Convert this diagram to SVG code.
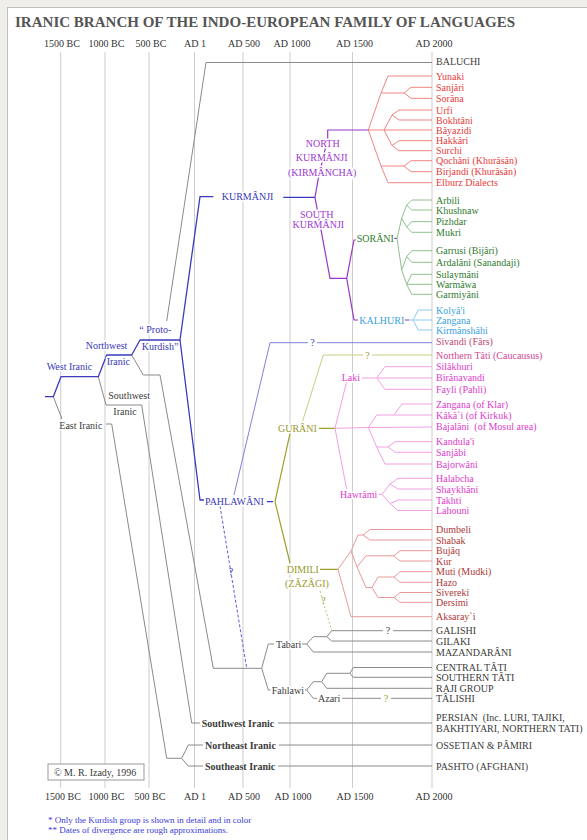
<svg xmlns="http://www.w3.org/2000/svg" width="587" height="840" viewBox="0 0 587 840">
<style>
text{font-family:"Liberation Serif","Times New Roman",serif;font-size:10px}
.h{paint-order:stroke;stroke:#fff;stroke-width:3px;stroke-linejoin:round}
.pre{white-space:pre}
.b{font-weight:bold}
.k{fill:#3c3c3c}.nk{fill:#e63c3c}.gr{fill:#2f7b2f}.lb{fill:#3aa2e0}.mg{fill:#dd3ccc}.dm{fill:#ad3838}
.bl{fill:#3838b8}.pu{fill:#a038d0}.ol{fill:#9a9a2a}.sv{fill:#c04870}.nt{fill:#cf4892}.ax{fill:#333}
.c{fill:none;stroke-width:1;stroke-linejoin:round}
.sg{stroke:#8a8a8a}.sb{stroke:#3b3bbd;stroke-width:1.3}.sp{stroke:#9a35c8;stroke-width:1.2}.so{stroke:#9fa02a;stroke-width:1.2}
.sr{stroke:#f08585}.sgn{stroke:#8fc08f}.slb{stroke:#8ccaf0}.spk{stroke:#f0a0e4}.sdm{stroke:#e89a9a}
.grid{stroke:#cdcdcd;stroke-width:1}
</style>
<rect width="587" height="840" fill="#fff"/>
<rect x="0" y="0" width="7" height="840" fill="#efeee9"/>
<rect x="0" y="0" width="587" height="7" fill="#efeee9"/>
<line x1="7.5" y1="7" x2="7.5" y2="840" stroke="#c0c0c0"/>
<line x1="7" y1="7.5" x2="587" y2="7.5" stroke="#c0c0c0"/>

<g id="title"><text x="15" y="27" font-weight="bold" fill="#555" style="font-size:15px" textLength="500" lengthAdjust="spacingAndGlyphs">IRANIC BRANCH OF THE INDO-EUROPEAN FAMILY OF LANGUAGES</text></g>

<g id="grid">
<line class="grid" x1="60.7" y1="52" x2="60.7" y2="788"/>
<line class="grid" x1="105" y1="52" x2="105" y2="788"/>
<line class="grid" x1="149" y1="52" x2="149" y2="788"/>
<line class="grid" x1="194.5" y1="52" x2="194.5" y2="788"/>
<line class="grid" x1="243" y1="52" x2="243" y2="788"/>
<line class="grid" x1="290" y1="52" x2="290" y2="788"/>
<line class="grid" x1="352.5" y1="52" x2="352.5" y2="788"/>
<line class="grid" x1="432" y1="52" x2="432" y2="788"/>
</g>

<g id="axis-top" text-anchor="middle">
<text x="62" y="47" class="ax">1500 BC</text><text x="106.5" y="47" class="ax">1000 BC</text><text x="151" y="47" class="ax">500 BC</text><text x="195" y="47" class="ax">AD 1</text><text x="244" y="47" class="ax">AD 500</text><text x="292" y="47" class="ax">AD 1000</text><text x="354.5" y="47" class="ax">AD 1500</text><text x="434" y="47" class="ax">AD 2000</text>
</g>
<g id="axis-bottom" text-anchor="middle">
<text x="63" y="800" class="ax">1500 BC</text><text x="106.5" y="800" class="ax">1000 BC</text><text x="150" y="800" class="ax">500 BC</text><text x="195" y="800" class="ax">AD 1</text><text x="244" y="800" class="ax">AD 500</text><text x="293" y="800" class="ax">AD 1000</text><text x="355" y="800" class="ax">AD 1500</text><text x="434" y="800" class="ax">AD 2000</text>
</g>

<g id="connectors">
<path class="c sg" d="M53.3,396.7 L62,419 M106,424 L111.7,424 L166.7,758.3 L181.7,758.3 M188.3,745 L181.7,758.3 L188.3,766 M188.3,745 L203,745 M188.3,766 L203,766 M279,745 L432,745 M278,766 L432,766"/>
<path class="c sg" d="M98.3,376.7 L106,405 L141.7,405 L191.7,723 L200,723 M278,723 L432,723"/>
<path class="c sg" d="M131.7,355 L143.3,375 L160,375 L213.3,668.3 L261.7,668.3 M268.3,644 L261.7,668.3 L268.3,690 M268.3,644 L274,644 M268.3,690 L270.5,690"/>
<path class="c sg" d="M302,644 L306.7,644 M313.3,636.7 L306.7,644 L313.3,652 M313.3,636.7 L326.7,636.7 M331.7,630.7 L326.7,636.7 L331.7,641 M331.7,630.7 L383,630.7 M393,630.7 L432,630.7 M331.7,641 L432,641 M313.3,652 L432,652"/>
<path class="c sg" d="M305,690 L306.7,690 M313.3,681.7 L306.7,690 L313.3,698.3 M313.3,681.7 L321.7,681.7 M326.7,673.3 L321.7,681.7 L326.7,688.3 M326.7,673.3 L350,673.3 M353.3,667.5 L350,673.3 L353.3,677.3 M353.3,667.5 L432,667.5 M353.3,677.3 L432,677.3 M326.7,688.3 L432,688.3 M313.3,698.3 L317,698.3 M342,698.3 L381,698.3 M391,698.3 L432,698.3"/>
<path class="c sg" d="M166.7,321 L206,62.5 L432,62.5"/>
<path class="c sb" d="M45,396.7 L53.3,396.7 L61,376.7 L98.3,376.7 L106.7,355 L131.7,355 L140,340 L180,340 L200,196.7 L213.3,196.7 M180,340 L200,500 L204,500 M283.3,197.3 L315,197.3 M267,501.7 L273,501.7"/>
<path class="c sp" d="M315,197.3 L318.3,178.3 L327.7,138.3 L327.7,130 L368.3,130 M315,197.3 L330,278.3 L346.7,278.3 M346.7,278.3 L354,240 L356,240 M346.7,278.3 L354,320 L358,320 M404,320 L409,320 M394,238.3 L397,238.3"/>
<path class="c so" d="M290,433.3 L275,501.7 L290,563 M319,428.3 L335,428.3 M320,569.3 L338,569.3"/>
<path class="c" stroke="#c9cd85" d="M301.7,424 L323.3,355 L363,355 M372,355 L432,355"/>
<path class="c" stroke="#bcc46a" stroke-dasharray="2,2" d="M320,591 L331.7,630.7"/>
<path class="c" stroke="#8080dc" stroke-width="0.8" d="M234,495 L270,342.7 L308,342.7 M317,342.7 L432,342.7"/>
<path class="c" stroke="#5d5dd8" stroke-width="0.9" stroke-dasharray="3,2" d="M220,506 L246.7,668.3"/>
<path class="c sr" d="M368.3,130 L381,93 L388,76 L432,76 M381,93 L404,93 L411,87.3 L432,87.3 M404,93 L411,98.3 L432,98.3 M368.3,130 L432,130 M384,130 L392,115 L399,110 L432,110 M392,115 L399,120 L432,120 M384,130 L392,145.5 L399,140.7 L432,140.7 M392,145.5 L399,150.7 L432,150.7 M368.3,130 L381,166 L404,166 L411,160.7 L432,160.7 M404,166 L411,171.7 L432,171.7 M381,166 L388,182.7 L432,182.7"/>
<path class="c sgn" d="M397,238.3 L401.7,218.3 L406.7,205 L411.7,200 L432,200 M406.7,205 L411.7,210 L432,210 M401.7,218.3 L406.7,227 L411.7,221.7 L432,221.7 M406.7,227 L411.7,232.3 L432,232.3 M397,238.3 L401.7,270 L406.7,256.5 L411.7,250.7 L432,250.7 M406.7,256.5 L411.7,262.3 L432,262.3 M401.7,270 L406.7,284.3 L411.7,274.3 L432,274.3 M406.7,284.3 L432,284.3 M406.7,284.3 L411.7,294.3 L432,294.3"/>
<path class="c slb" d="M409,320 L413,320 L418.3,310 L432,310 M413,320 L432,320 M413,320 L418.3,330 L432,330"/>
<path class="c spk" d="M346.7,381.5 L335,428.3 L346.7,489.5 M335,428.3 L368.3,427.5 L432,427 M362,378 L376.7,378 M385,366.7 L376.7,378 L385,389.3 M385,366.7 L432,366.7 M376.7,378 L432,378 M385,389.3 L432,389.3 M368.3,427.5 L376.7,415 L432,415 M394,415 L402,404 L432,404 M368.3,427.5 L376.7,447 L388,447 M395,441.7 L388,447 L395,452.3 M395,441.7 L432,441.7 M395,452.3 L432,452.3 M376.7,447 L385,464 L432,464 M378.5,494.3 L382,494.3 M390,484 L382,494.3 L390,503.5 M390,484 L398,478.3 L432,478.3 M390,484 L398,489 L432,489 M390,503.5 L398,500 L432,500 M390,503.5 L398,510.5 L432,510.5"/>
<path class="c sdm" d="M351,551 L338,569.3 L351,616.7 L432,616.7 M351,551 L358,535 L363,535 M370,529.5 L363,535 L370,540 M370,529.5 L432,529.5 M370,540 L432,540 M351,551 L357,567 M366,555.8 L357,567 L366,587.5 M366,555.8 L394,555.8 M400,550.7 L394,555.8 L400,561 M400,550.7 L432,550.7 M400,561 L432,561 M366,587.5 L372,587.5 M378,577 L372,587.5 L378,597.5 M378,577 L394,577 M400,571.7 L394,577 L400,582.3 M400,571.7 L432,571.7 M400,582.3 L432,582.3 M378,597.5 L394,597.5 M400,592.5 L394,597.5 L400,602.3 M400,592.5 L432,592.5 M400,602.3 L432,602.3"/>
</g>

<g id="question-marks">
<text x="312.5" y="345.5" text-anchor="middle" class="bl">?</text>
<text x="367.5" y="358.5" text-anchor="middle" class="ol">?</text>
<text x="231" y="575" text-anchor="middle" class="bl">?</text>
<text x="323.5" y="604" text-anchor="middle" class="ol">?</text>
<text x="388" y="634" text-anchor="middle" class="k">?</text>
<text x="386" y="701.5" text-anchor="middle" class="ol">?</text>
</g>

<g id="n-west-iranic"><text x="46.7" y="369.5" class="bl h">West Iranic</text></g>
<g id="n-northwest-iranic"><text x="85.7" y="348.5" class="bl h">Northwest</text><text x="106.7" y="365" class="bl h">Iranic</text></g>
<g id="n-proto-kurdish"><text x="139.3" y="332.8" class="bl h">“ Proto-</text><text x="141.7" y="350" class="bl h">Kurdish”</text></g>
<g id="n-southwest-upper"><text x="108.3" y="398.5" class="k h">Southwest</text><text x="113.3" y="414.5" class="k h">Iranic</text></g>
<g id="n-east-iranic"><text x="59.3" y="428.5" class="k h">East Iranic</text></g>
<g id="n-kurmanji"><text x="221.7" y="200.2" class="bl h">KURMÂNJI</text></g>
<g id="n-pahlawani"><text x="205" y="505" class="bl h">PAHLAWÂNI</text></g>
<g id="n-north-kurmanji" text-anchor="middle"><text x="322.7" y="146.8" class="pu h">NORTH</text><text x="321.7" y="160.5" class="pu h">KURMÂNJI</text><text x="322.2" y="176.2" class="pu h">(KIRMÂNCHA)</text></g>
<g id="n-south-kurmanji" text-anchor="middle"><text x="316.7" y="217.5" class="pu h">SOUTH</text><text x="318.3" y="228" class="pu h">KURMÂNJI</text></g>
<g id="n-sorani"><text x="356.7" y="241.8" class="gr h">SORÂNI</text></g>
<g id="n-kalhuri"><text x="359.3" y="323.5" class="lb h">KALHURI</text></g>
<g id="n-gurani"><text x="278" y="431.8" class="ol h">GURÂNI</text></g>
<g id="n-dimili"><text x="286.7" y="572.8" class="ol h">DIMILI</text><text x="285" y="586.8" class="ol h">(ZÂZÂGI)</text></g>
<g id="n-laki"><text x="341.7" y="381" class="mg h">Laki</text></g>
<g id="n-hawrami"><text x="340" y="497.8" class="mg h">Hawrâmi</text></g>
<g id="n-tabari"><text x="276" y="647.5" class="k h">Tabari</text></g>
<g id="n-fahlawi"><text x="271.7" y="693.5" class="k h">Fahlawi</text></g>
<g id="n-azari"><text x="318" y="701.8" class="k h">Azari</text></g>
<g id="n-southwest-iranic"><text x="201.7" y="726.5" class="k b">Southwest Iranic</text></g>
<g id="n-northeast-iranic"><text x="205" y="748.5" class="k b">Northeast Iranic</text></g>
<g id="n-southeast-iranic"><text x="205" y="769.5" class="k b">Southeast Iranic</text></g>

<g id="leaves-grey-top"><text x="436" y="64.5" class="k">BALUCHI</text></g>
<g id="leaves-north-kurmanji">
<text x="436" y="79.5" class="nk">Yunaki</text><text x="436" y="90.8" class="nk">Sanjâri</text><text x="436" y="101.8" class="nk">Sorâna</text><text x="436" y="113.5" class="nk">Urfi</text><text x="436" y="123.5" class="nk">Bokhtâni</text><text x="436" y="133.5" class="nk">Bâyazidi</text><text x="436" y="144.2" class="nk">Hakkâri</text><text x="436" y="154.2" class="nk">Surchi</text><text x="436" y="164.2" class="nk">Qochâni (Khurâsân)</text><text x="436" y="175.2" class="nk">Birjandi (Khurâsân)</text><text x="436" y="186.2" class="nk">Elburz Dialects</text>
</g>
<g id="leaves-sorani">
<text x="436" y="203.5" class="gr">Arbili</text><text x="436" y="213.5" class="gr">Khushnaw</text><text x="436" y="225.2" class="gr">Pizhdar</text><text x="436" y="235.8" class="gr">Mukri</text><text x="436" y="254.2" class="gr">Garrusi (Bijâri)</text><text x="436" y="265.8" class="gr">Ardalâni (Sanandaji)</text><text x="436" y="277.8" class="gr">Sulaymâni</text><text x="436" y="287.8" class="gr">Warmâwa</text><text x="436" y="297.8" class="gr">Garmiyâni</text>
</g>
<g id="leaves-kalhuri">
<text x="436" y="313.5" class="lb">Kolyâ'i</text><text x="436" y="323.5" class="lb">Zangana</text><text x="436" y="333.5" class="lb">Kirmânshâhi</text>
</g>
<g id="leaf-sivandi"><text x="436" y="345.2" class="sv">Sivandi (Fârs)</text></g>
<g id="leaf-northern-tati"><text x="436" y="358.5" class="nt">Northern Tâti (Caucausus)</text></g>
<g id="leaves-gurani">
<text x="436" y="370.2" class="mg">Silâkhuri</text><text x="436" y="381.2" class="mg">Birânavandi</text><text x="436" y="392.8" class="mg">Fayli (Pahli)</text><text x="436" y="407.5" class="mg">Zangana (of Klar)</text><text x="436" y="418.5" class="mg">Kâkâ`i (of Kirkuk)</text><text x="436" y="430.2" class="mg pre">Bajalâni  (of Mosul area)</text><text x="436" y="445.2" class="mg">Kandula'i</text><text x="436" y="455.8" class="mg">Sanjâbi</text><text x="436" y="467.5" class="mg">Bajorwâni</text><text x="436" y="481.8" class="mg">Halabcha</text><text x="436" y="492.5" class="mg">Shaykhâni</text><text x="436" y="503.5" class="mg">Takhti</text><text x="436" y="514" class="mg">Lahouni</text>
</g>
<g id="leaves-dimili">
<text x="436" y="533" class="dm">Dumbeli</text><text x="436" y="543.5" class="dm">Shabak</text><text x="436" y="554.2" class="dm">Bujâq</text><text x="436" y="564.5" class="dm">Kur</text><text x="436" y="575.2" class="dm">Muti (Mudki)</text><text x="436" y="585.8" class="dm">Hazo</text><text x="436" y="596" class="dm">Sivereki</text><text x="436" y="605.8" class="dm">Dersimi</text><text x="436" y="620.2" class="dm">Aksaray`i</text>
</g>
<g id="leaves-grey">
<text x="436" y="634.2" class="k">GALISHI</text><text x="436" y="644.5" class="k">GILAKI</text><text x="436" y="655.5" class="k">MAZANDARÂNI</text><text x="436" y="671" class="k">CENTRAL TÂTI</text><text x="436" y="680.8" class="k">SOUTHERN TÂTI</text><text x="436" y="691.8" class="k">RAJI GROUP</text><text x="436" y="701.8" class="k">TÂLISHI</text><text x="436" y="721" class="k pre">PERSIAN  (Inc. LURI, TAJIKI,</text><text x="436" y="731.5" class="k">BAKHTIYARI, NORTHERN TATI)</text><text x="436" y="748.5" class="k">OSSETIAN &amp; PÂMIRI</text><text x="436" y="769.5" class="k">PASHTO (AFGHANI)</text>
</g>

<g id="copyright"><rect x="48" y="764" width="96" height="16" fill="#fff" stroke="#999"/><text x="54" y="775.5" class="k">© M. R. Izady, 1996</text></g>
<g id="footnotes">
<text x="48" y="823" style="font-size:9px" fill="#3a3ad8">* Only the Kurdish group is shown in detail and in color</text>
<text x="48" y="833" style="font-size:9px" fill="#3a3ad8">** Dates of divergence are rough approximations.</text>
</g>
</svg>
